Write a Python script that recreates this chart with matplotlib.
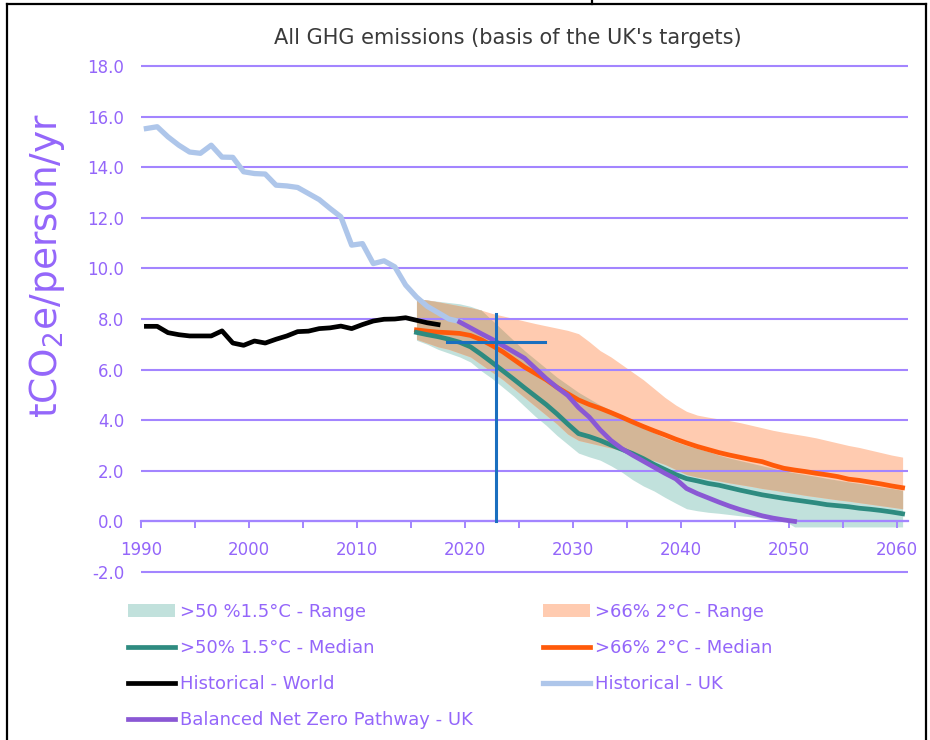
import numpy as np
import matplotlib
matplotlib.use('Agg')
import matplotlib.pyplot as plt
from matplotlib.lines import Line2D

plt.rcParams['axes.unicode_minus'] = False

# historical emissions, tCO2e per person per year
world_years = list(range(1990, 2018))
world_hist = [7.71, 7.71, 7.46, 7.38, 7.33, 7.33, 7.33, 7.53, 7.05, 6.96,
              7.13, 7.05, 7.20, 7.33, 7.50, 7.52, 7.62, 7.65, 7.72, 7.62,
              7.78, 7.92, 7.99, 8.00, 8.05, 7.95, 7.85, 7.78]

uk_years = list(range(1990, 2020))
uk_hist = [15.53, 15.60, 15.20, 14.87, 14.60, 14.55, 14.87, 14.40, 14.39, 13.82,
           13.75, 13.73, 13.29, 13.26, 13.20, 12.96, 12.72, 12.37, 12.04, 10.92,
           10.98, 10.19, 10.30, 10.06, 9.34, 8.87, 8.50, 8.25, 8.00, 7.90]

# balanced net zero pathway
bnz_years = list(range(2019, 2051))
bnz_uk = [7.88, 7.65, 7.42, 7.20, 6.95, 6.70, 6.45, 6.05, 5.65, 5.30,
          4.98, 4.50, 4.12, 3.62, 3.20, 2.88, 2.62, 2.38, 2.14, 1.90,
          1.68, 1.30, 1.10, 0.93, 0.76, 0.60, 0.46, 0.34, 0.22, 0.13,
          0.06, 0.00]

# IPCC style pathways 2015-2060
proj_years = list(range(2015, 2061))
med_15 = [7.47, 7.38, 7.30, 7.20, 7.08, 6.90, 6.60, 6.28, 5.95, 5.62,
          5.28, 4.95, 4.62, 4.25, 3.85, 3.47, 3.35, 3.20, 3.02, 2.85,
          2.68, 2.48, 2.25, 2.05, 1.85, 1.69, 1.60, 1.50, 1.43, 1.33,
          1.23, 1.14, 1.05, 0.98, 0.91, 0.85, 0.79, 0.73, 0.66, 0.62,
          0.58, 0.52, 0.48, 0.43, 0.37, 0.30]
med_2 = [7.57, 7.52, 7.48, 7.46, 7.43, 7.35, 7.18, 6.95, 6.70, 6.40,
         6.10, 5.85, 5.60, 5.30, 5.05, 4.80, 4.62, 4.47, 4.30, 4.12,
         3.93, 3.75, 3.58, 3.42, 3.25, 3.10, 2.96, 2.84, 2.72, 2.62,
         2.53, 2.44, 2.36, 2.22, 2.10, 2.03, 1.97, 1.90, 1.84, 1.77,
         1.67, 1.62, 1.55, 1.48, 1.40, 1.33]
lo_15 = [7.16, 7.00, 6.80, 6.65, 6.50, 6.30, 5.95, 5.65, 5.30, 4.95,
         4.55, 4.15, 3.80, 3.40, 3.05, 2.70, 2.55, 2.42, 2.20, 1.95,
         1.65, 1.40, 1.20, 0.95, 0.72, 0.50, 0.42, 0.36, 0.32, 0.27,
         0.22, 0.18, 0.13, 0.08, 0.04, -0.22, -0.22, -0.22, -0.22, -0.22,
         -0.22, -0.22, -0.22, -0.22, -0.22, -0.22]
hi_15 = [8.81, 8.75, 8.70, 8.65, 8.60, 8.50, 8.35, 7.95, 7.55, 7.15,
         6.75, 6.40, 6.05, 5.70, 5.40, 5.10, 4.85, 4.60, 4.40, 4.20,
         3.95, 3.70, 3.50, 3.30, 3.15, 3.00, 2.88, 2.76, 2.62, 2.50,
         2.40, 2.30, 2.20, 2.10, 2.00, 1.92, 1.85, 1.78, 1.70, 1.63,
         1.56, 1.50, 1.43, 1.36, 1.30, 1.23]
lo_2 = [7.20, 7.05, 6.90, 6.80, 6.65, 6.50, 6.20, 5.90, 5.60, 5.25,
        4.90, 4.55, 4.20, 3.85, 3.45, 3.20, 3.10, 3.00, 2.90, 2.80,
        2.65, 2.52, 2.40, 2.25, 2.05, 1.85, 1.75, 1.67, 1.60, 1.52,
        1.45, 1.38, 1.30, 1.24, 1.17, 1.10, 1.03, 0.97, 0.91, 0.85,
        0.80, 0.74, 0.68, 0.62, 0.56, 0.50]
hi_2 = [8.81, 8.75, 8.68, 8.60, 8.52, 8.45, 8.35, 8.22, 8.12, 8.02,
        7.92, 7.82, 7.73, 7.64, 7.55, 7.42, 7.10, 6.75, 6.50, 6.20,
        5.90, 5.60, 5.25, 4.90, 4.60, 4.35, 4.20, 4.12, 4.05, 3.98,
        3.90, 3.80, 3.70, 3.60, 3.52, 3.45, 3.38, 3.30, 3.20, 3.10,
        3.00, 2.92, 2.82, 2.72, 2.62, 2.54]

# blue crosshair drawn on the chart
cross_x = 2022.9
cross_y = 7.08
cross_xspan = [2018.3, 2027.4]
cross_yspan = [0.0, 8.2]

x_ticks = list(range(1990, 2061, 5))
x_labels = ['1990', '', '2000', '', '2010', '', '2020', '', '2030', '',
            '2040', '', '2050', '', '2060']
y_ticks = list(range(-2, 19, 2))
y_labels = ['-2.0', '0.0', '2.0', '4.0', '6.0', '8.0', '10.0', '12.0',
            '14.0', '16.0', '18.0']

PURPLE_TXT = '#9466fa'
PURPLE_LN = '#a385ff'

# excel puts each yearly point in the middle of the year
def mid(years):
    return np.array(years) + 0.5

fig = plt.figure(figsize=(9.3, 7.4), dpi=100)
W, H = 930.0, 740.0
ax = fig.add_axes([141 / W, 1 - 574.5 / H, 767 / W, 511 / H])
ax.set_xlim(1990, 2061)
ax.set_ylim(-2.1, 18.1)

xp = mid(proj_years)
lo_15a = np.array(lo_15)
hi_15a = np.array(hi_15)
lo_2a = np.array(lo_2)
hi_2a = np.array(hi_2)
r15 = ax.fill_between(xp, lo_15a, hi_15a, color='#c1e1dc', lw=0, zorder=0.2)
r2 = ax.fill_between(xp, lo_2a, hi_2a, color='#ffcbb0', lw=0, zorder=0.2)
# where the two ranges overlap
ax.fill_between(xp, np.maximum(lo_15a, lo_2a), np.minimum(hi_15a, hi_2a),
                color='#d3b697', lw=0, zorder=0.3)

huk, = ax.plot(mid(uk_years), uk_hist, color='#aec6ea', lw=3.8, zorder=3)
hw, = ax.plot(mid(world_years), world_hist, color='black', lw=3.4, zorder=3)
m2, = ax.plot(xp, med_2, color='#ff5a0a', lw=3.4, zorder=3)
m15, = ax.plot(xp, med_15, color='#2e8b80', lw=3.4, zorder=3)
bnz, = ax.plot(mid(bnz_years), bnz_uk, color='#8a58d4', lw=3.4, zorder=4)

ax.plot([cross_x, cross_x], cross_yspan, color='#1a6fbf', lw=2.2, zorder=5)
ax.plot(cross_xspan, [cross_y, cross_y], color='#1a6fbf', lw=2.2, zorder=5)

# axes styling
for side in ['left', 'right', 'top']:
    ax.spines[side].set_visible(False)
ax.spines['bottom'].set_position(('data', 0))
ax.spines['bottom'].set_color(PURPLE_LN)
ax.spines['bottom'].set_linewidth(1.6)
ax.spines['bottom'].set_zorder(2.5)

ax.set_xticks(x_ticks)
ax.set_xticklabels(x_labels)
ax.set_yticks(y_ticks)
ax.set_yticklabels(y_labels)
ax.tick_params(axis='x', direction='out', length=5, width=1.4,
               color=PURPLE_LN, labelcolor=PURPLE_TXT, labelsize=12, pad=9)
ax.tick_params(axis='y', length=0, labelcolor=PURPLE_TXT, labelsize=12, pad=12)
ax.set_axisbelow(True)
ax.yaxis.grid(True, color=PURPLE_LN, lw=1.5)
ax.xaxis.grid(False)

fig.text(508 / W, 1 - 38 / H, "All GHG emissions (basis of the UK's targets)",
         ha='center', va='center', fontsize=15, color='#3a3a3a')
fig.text(47 / W, 1 - 266 / H, r'tCO$_2$e/person/yr', rotation=90,
         ha='center', va='center', fontsize=27, color='#9466fa')

# legend, two columns placed separately
leg_kw = dict(frameon=False, loc='upper left', fontsize=13, labelcolor=PURPLE_TXT,
              handlelength=2.6, handletextpad=0.3, labelspacing=1.0,
              borderpad=0, borderaxespad=0)
fig.legend([r15, m15, hw, bnz],
           ['>50 %1.5°C - Range', '>50% 1.5°C - Median', 'Historical - World',
            'Balanced Net Zero Pathway - UK'],
           bbox_to_anchor=(128 / W, 1 - 603 / H), **leg_kw)
fig.legend([r2, m2, huk],
           ['>66% 2°C - Range', '>66% 2°C - Median', 'Historical - UK'],
           bbox_to_anchor=(543 / W, 1 - 603 / H), **leg_kw)

# black frame around the picture
frame = dict(transform=fig.transFigure, color='black', lw=1.6)
fig.add_artist(Line2D([7 / W, 7 / W], [0, 1 - 4 / H], **frame))
fig.add_artist(Line2D([7 / W, 926 / W], [1 - 4 / H, 1 - 4 / H], **frame))
fig.add_artist(Line2D([926 / W, 926 / W], [0, 1 - 4 / H], **frame))
fig.add_artist(Line2D([592 / W, 592 / W], [1 - 4 / H, 1], **frame))

fig.savefig('out.png', dpi=100)
